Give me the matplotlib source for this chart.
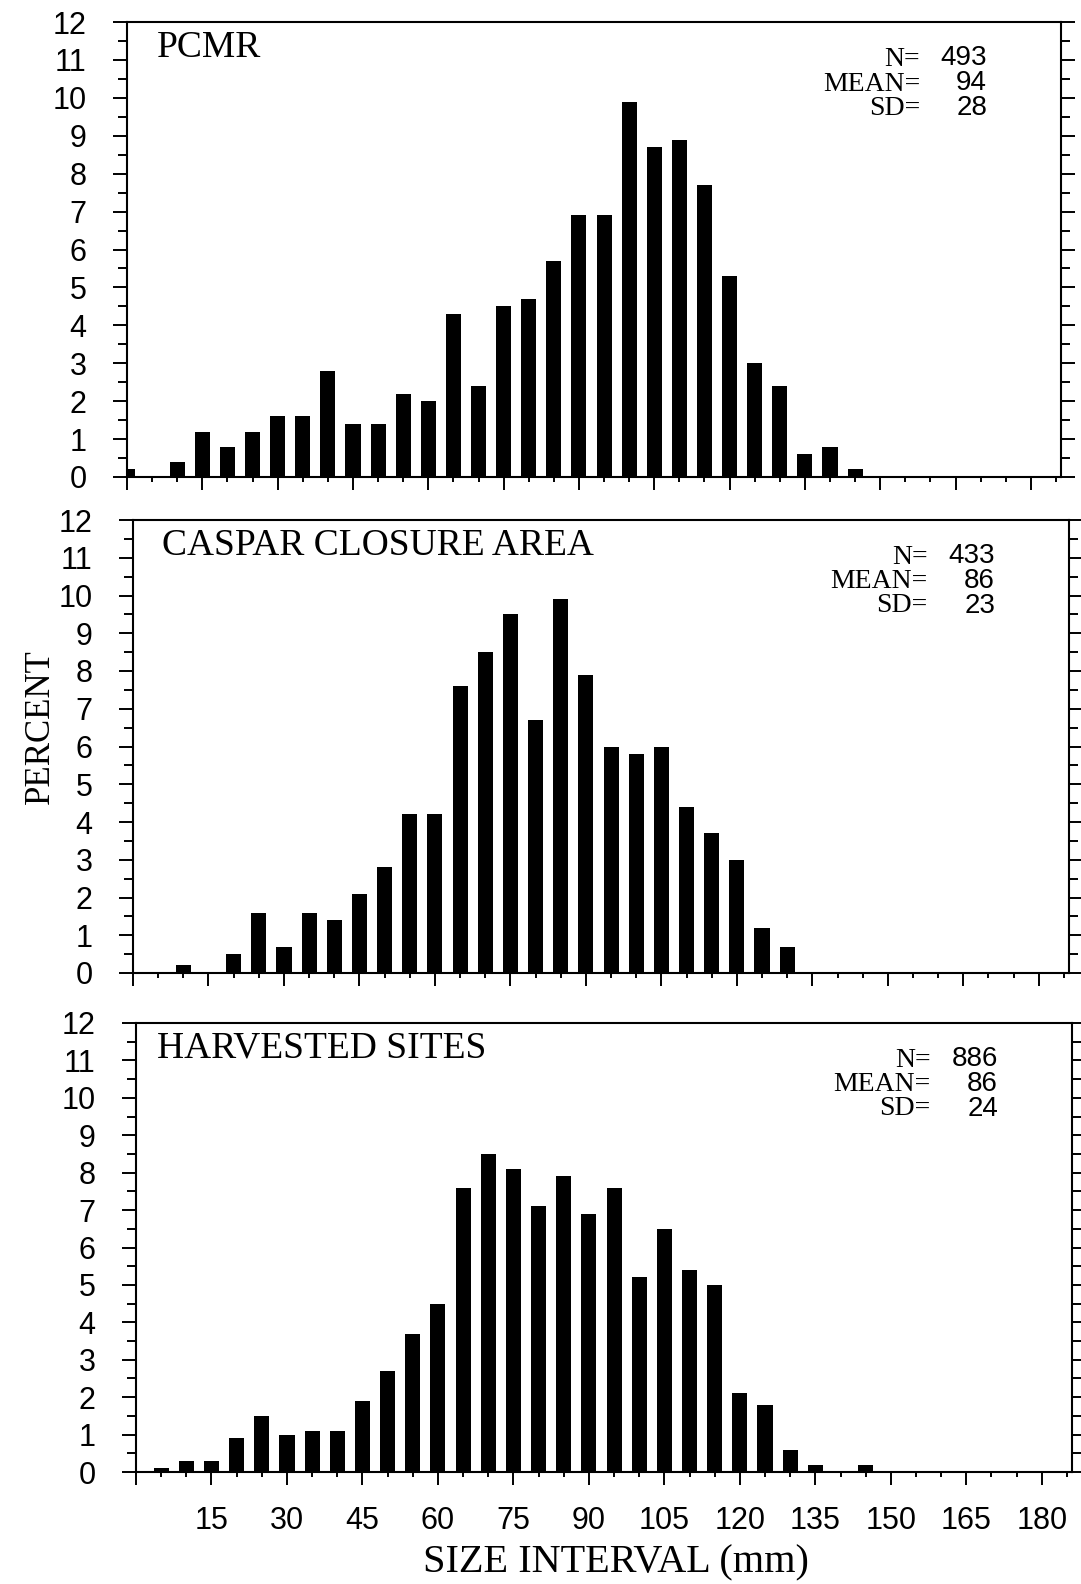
import matplotlib
matplotlib.use('Agg')
import matplotlib.pyplot as plt
from matplotlib.ticker import MultipleLocator

# size interval midpoints (mm)
size_bins = [0, 5, 10, 15, 20, 25, 30, 35, 40, 45, 50, 55, 60, 65, 70,
             75, 80, 85, 90, 95, 100, 105, 110, 115, 120, 125, 130, 135, 140, 145]

# percent of sample in each size interval
pcmr_pct = [0.2, 0.0, 0.4, 1.2, 0.8, 1.2, 1.6, 1.6, 2.8, 1.4, 1.4, 2.2, 2.0, 4.3, 2.4,
            4.5, 4.7, 5.7, 6.9, 6.9, 9.9, 8.7, 8.9, 7.7, 5.3, 3.0, 2.4, 0.6, 0.8, 0.2]
caspar_pct = [0.0, 0.0, 0.2, 0.0, 0.5, 1.6, 0.7, 1.6, 1.4, 2.1, 2.8, 4.2, 4.2, 7.6, 8.5,
              9.5, 6.7, 9.9, 7.9, 6.0, 5.8, 6.0, 4.4, 3.7, 3.0, 1.2, 0.7, 0.0, 0.0, 0.0]
harvest_pct = [0.0, 0.1, 0.3, 0.3, 0.9, 1.5, 1.0, 1.1, 1.1, 1.9, 2.7, 3.7, 4.5, 7.6, 8.5,
               8.1, 7.1, 7.9, 6.9, 7.6, 5.2, 6.5, 5.4, 5.0, 2.1, 1.8, 0.6, 0.2, 0.0, 0.2]

panel_names = ['PCMR', 'CASPAR CLOSURE AREA', 'HARVESTED SITES']
panel_n = [493, 433, 886]
panel_mean = [94, 86, 86]
panel_sd = [28, 23, 24]

x_tick_vals = [0, 15, 30, 45, 60, 75, 90, 105, 120, 135, 150, 165, 180]

W, H = 1081, 1584
SERIF = 'Liberation Serif'
SANS = 'Liberation Sans'


def box(l, r, t, b):
    # pixel box -> figure fraction
    return [l / W, 1 - b / H, (r - l) / W, (b - t) / H]


boxes = [box(127, 1061, 22, 477), box(133, 1069, 520, 973), box(136, 1072, 1023, 1472)]
title_x = [0.032, 0.031, 0.022]
series = [pcmr_pct, caspar_pct, harvest_pct]

fig = plt.figure(figsize=(W / 100, H / 100), dpi=100)

for i, vals in enumerate(series):
    ax = fig.add_axes(boxes[i])
    ax.bar(size_bins, vals, width=3.0, color='black', zorder=3)
    ax.set_xlim(0, 186)
    ax.set_ylim(0, 12)
    for s in ax.spines.values():
        s.set_linewidth(1.5)

    ax.set_yticks(range(0, 13))
    ax.yaxis.set_minor_locator(MultipleLocator(0.5))
    ax.tick_params(axis='y', which='both', left=True, right=True, direction='out', width=1.4)
    ax.tick_params(axis='y', which='major', length=10, pad=19, labelsize=22)
    ax.tick_params(axis='y', which='minor', length=6.5)

    ax.set_xticks(x_tick_vals)
    ax.xaxis.set_minor_locator(MultipleLocator(5))
    ax.tick_params(axis='x', which='both', direction='out', width=1.4, top=False)
    ax.tick_params(axis='x', which='major', length=9.5, pad=15, labelsize=22)
    ax.tick_params(axis='x', which='minor', length=3.5)
    if i == 2:
        ax.set_xticklabels([''] + [str(v) for v in x_tick_vals[1:]])
    else:
        ax.set_xticklabels([])

    for lab in ax.get_xticklabels() + ax.get_yticklabels():
        lab.set_family(SANS)

    ax.text(title_x[i], 0.943, panel_names[i], transform=ax.transAxes, ha='left', va='center',
            family=SERIF, fontsize=27)

    # stats block: one text per column, nudged so the lines sit level
    ax.text(0.849, 0.944, 'N=\nMEAN=\nSD=', transform=ax.transAxes, ha='right', va='top',
            multialignment='right', family=SERIF, fontsize=20, linespacing=0.95)
    ax.text(0.921, 0.949, '%d\n%d\n%d' % (panel_n[i], panel_mean[i], panel_sd[i]),
            transform=ax.transAxes, ha='right', va='top', multialignment='right',
            family=SANS, fontsize=20, linespacing=0.95)

fig.text(0.037, 0.541, 'PERCENT', rotation=90, ha='center', va='center', family=SERIF, fontsize=25)
fig.text(0.570, 0.0135, 'SIZE INTERVAL (mm)', ha='center', va='center', family=SERIF, fontsize=29)

fig.savefig('out.png', dpi=100, facecolor='white')
